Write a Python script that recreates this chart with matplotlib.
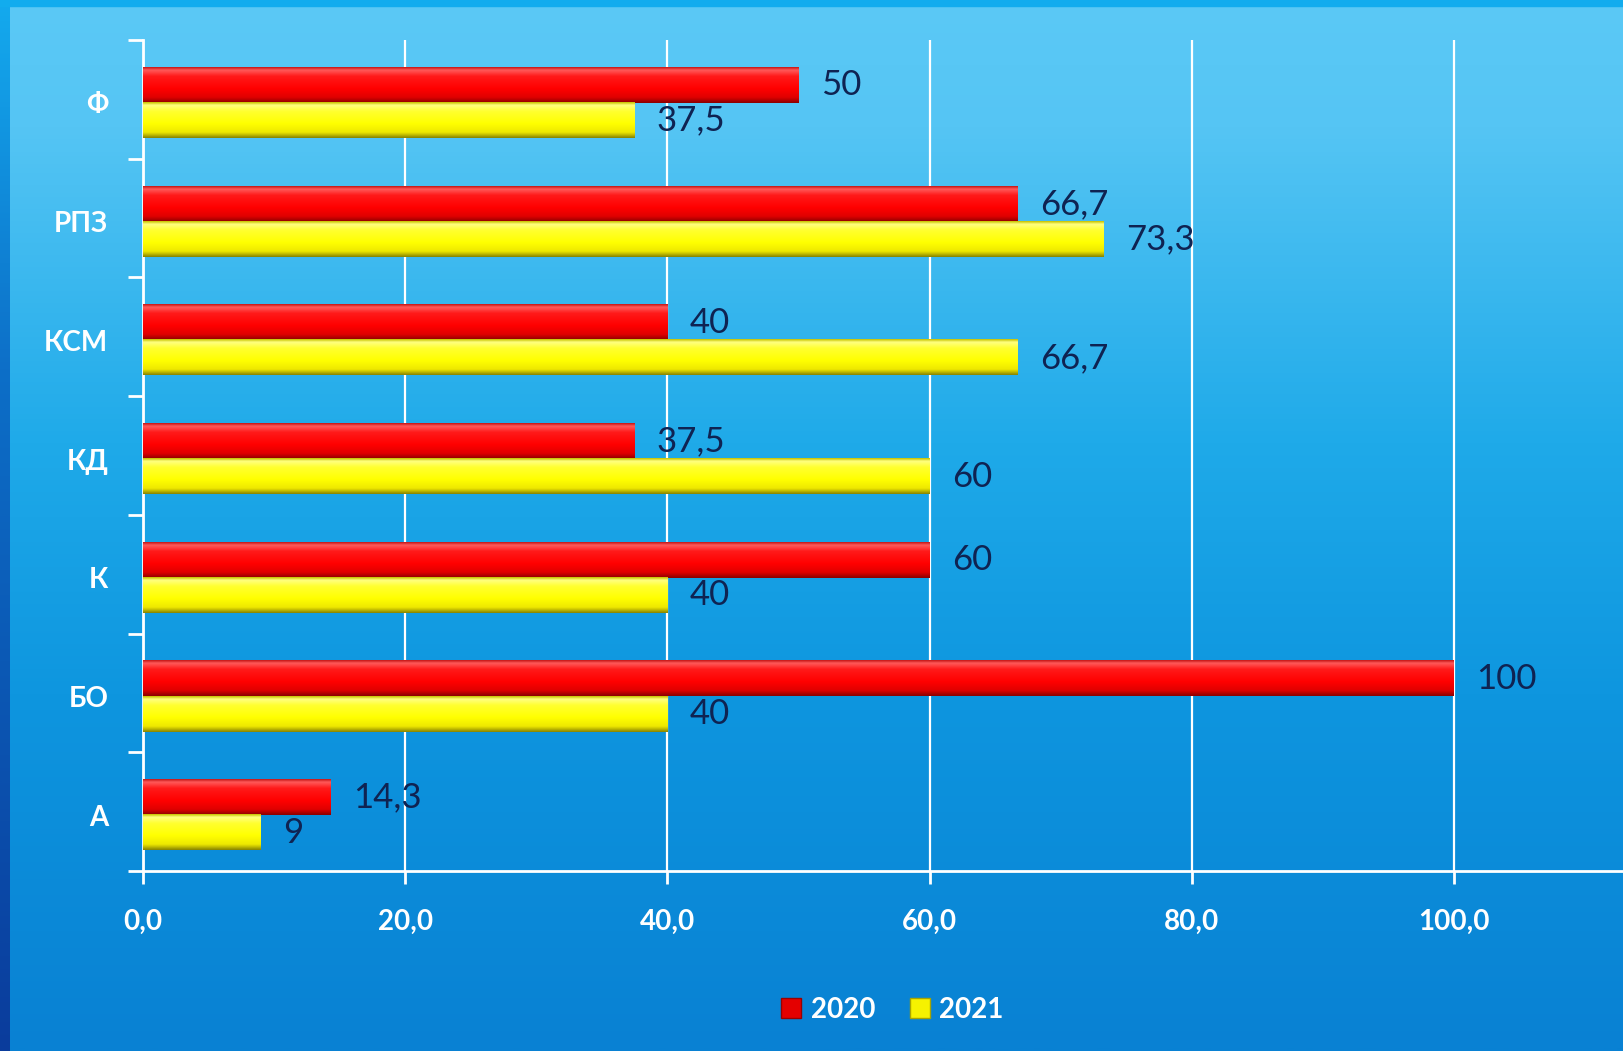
import numpy as np
import matplotlib
matplotlib.use('Agg')
import matplotlib.pyplot as plt
from matplotlib.colors import LinearSegmentedColormap
from matplotlib.lines import Line2D

plt.rcParams['font.family'] = ['Lato', 'DejaVu Sans']

categories = ['А', 'БО', 'К', 'КД', 'КСМ', 'РПЗ', 'Ф']
vals_2020 = [14.3, 100, 60, 37.5, 40, 66.7, 50]
vals_2021 = [9, 40, 40, 60, 66.7, 73.3, 37.5]
series_names = ['2020', '2021']
xticks = [0, 20, 40, 60, 80, 100]

W, H = 1624, 1051
fig = plt.figure(figsize=(W/100, H/100), dpi=100)

# background gradient
bg = fig.add_axes([0, 0, 1, 1])
bg.set_axis_off()
cmap_bg = LinearSegmentedColormap.from_list('bg', [
    (0.0, '#5bc9f6'), (0.12, '#55c5f4'), (0.42, '#1faae9'),
    (0.66, '#0e96df'), (1.0, '#0981d3')])
grad = np.linspace(0, 1, 512).reshape(-1, 1)
bg.imshow(grad, aspect='auto', cmap=cmap_bg, extent=[0, W, H, 0])
cmap_left = LinearSegmentedColormap.from_list('lb', [
    (0.0, '#14aaee'), (0.35, '#0d6fc8'), (1.0, '#0a3c9c')])
bg.imshow(grad, aspect='auto', cmap=cmap_left, extent=[0, 10, H, 0])
bg.fill_between([0, W], 0, 6, color='#12acee')
bg.set_xlim(0, W)
bg.set_ylim(H, 0)

# main axes
x0, x100 = 143, 1454
ppu = (x100 - x0) / 100.0
top, bottom = 40, 871
ax = fig.add_axes([x0/W, 1 - bottom/H, (W - x0)/W, (bottom - top)/H])
ax.set_facecolor('none')

y = np.arange(len(categories)) - 0.03
h = 0.295
ax.set_axisbelow(True)
ax.grid(axis='x', color='white', lw=1.6)

# shaded bars (top -> bottom profile)
red_cm = LinearSegmentedColormap.from_list('r', [
    (0.0, '#c81818'), (0.08, '#ff5a5a'), (0.25, '#ff1a1a'), (0.6, '#ff0000'),
    (0.85, '#e00000'), (1.0, '#8c0000')])
yel_cm = LinearSegmentedColormap.from_list('yl', [
    (0.0, '#c8c400'), (0.08, '#ffff80'), (0.25, '#ffff30'), (0.6, '#ffff00'),
    (0.85, '#eee800'), (1.0, '#8a8600')])
prof = np.linspace(0, 1, 64).reshape(-1, 1)

yr = y + h/2
yy = y - h/2
for yi, v in zip(yr, vals_2020):
    ax.imshow(prof, cmap=red_cm, aspect='auto', extent=(0, v, yi - h/2, yi + h/2),
              interpolation='bilinear', zorder=3)
for yi, v in zip(yy, vals_2021):
    ax.imshow(prof, cmap=yel_cm, aspect='auto', extent=(0, v, yi - h/2, yi + h/2),
              interpolation='bilinear', zorder=3)

def fmt(v):
    return f"{v:g}".replace('.', ',')

for yi, v in zip(yr, vals_2020):
    ax.annotate(fmt(v), (v, yi), xytext=(16, 0), textcoords='offset points',
                ha='left', va='center', fontsize=25, color='#0f2352', zorder=5)
for yi, v in zip(yy, vals_2021):
    ax.annotate(fmt(v), (v, yi), xytext=(16, 0), textcoords='offset points',
                ha='left', va='center', fontsize=25, color='#0f2352', zorder=5)

ax.set_xlim(0, (W - x0) / ppu)
ax.set_ylim(-0.5, len(categories) - 0.5)

for s in ['top', 'right']:
    ax.spines[s].set_visible(False)
for s in ['left', 'bottom']:
    ax.spines[s].set_color('white')
    ax.spines[s].set_linewidth(2)

ax.set_yticks(y)
ax.set_yticklabels(categories)
ax.set_yticks(np.arange(-0.5, len(categories)), minor=True)
ax.tick_params(axis='y', which='major', length=0, pad=25,
               labelcolor='white', labelsize=20)
ax.tick_params(axis='y', which='minor', length=11, width=2, color='white')
for t in ax.get_yticklabels():
    t.set_fontweight('bold')

ax.set_xticks(xticks)
ax.set_xticklabels([f"{v:.1f}".replace('.', ',') for v in xticks])
ax.tick_params(axis='x', length=9, width=2, color='white', pad=18,
               labelcolor='white', labelsize=20)
for t in ax.get_xticklabels():
    t.set_fontweight('bold')

handles = [
    Line2D([], [], ls='none', marker='s', markersize=15, markerfacecolor='#e40000',
           markeredgecolor='#9a0000'),
    Line2D([], [], ls='none', marker='s', markersize=15, markerfacecolor='#f6f200',
           markeredgecolor='#a8a400'),
]
leg = fig.legend(handles, series_names, loc='center', bbox_to_anchor=(892/W, 1 - 1010/H),
                 ncol=2, frameon=False, handlelength=0.8, handletextpad=0.3,
                 columnspacing=1.2, prop={'weight': 'bold', 'size': 20})
for t in leg.get_texts():
    t.set_color('white')

fig.savefig('out.png', dpi=100)
